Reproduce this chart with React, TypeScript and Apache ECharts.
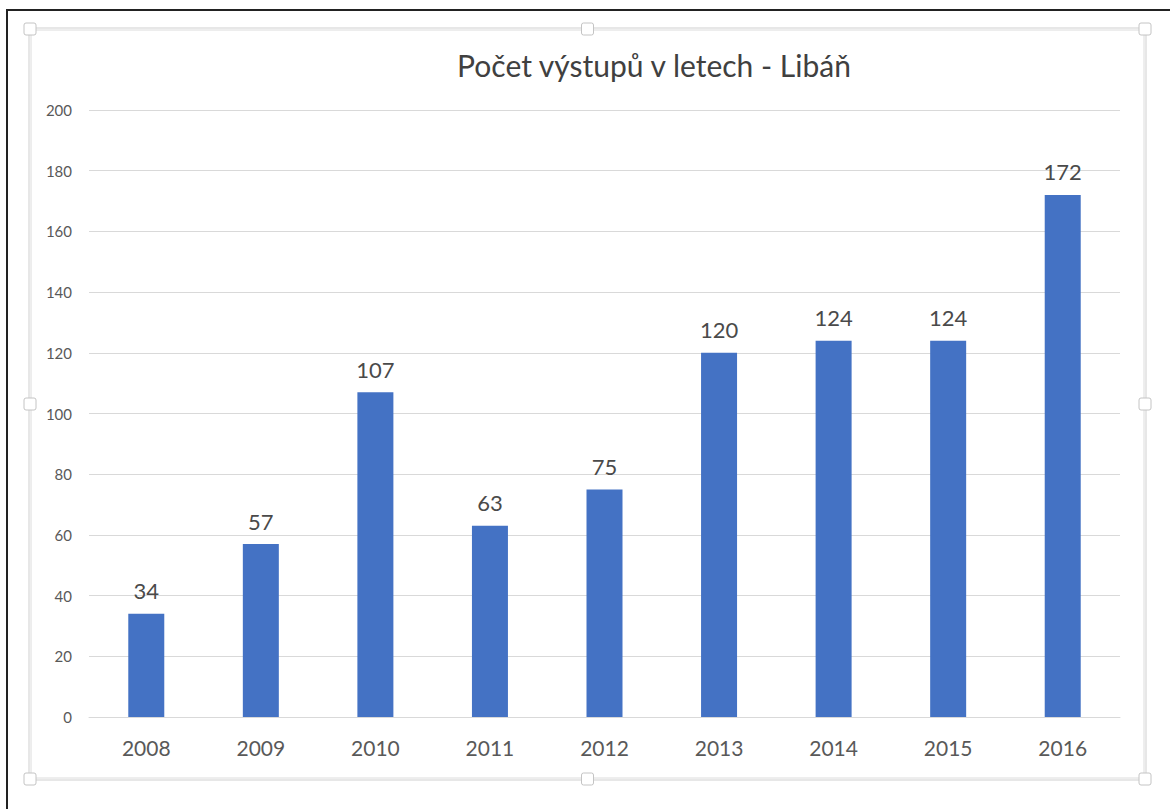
import React, { useEffect, useRef } from "react";
import * as echarts from "echarts";

const categories = ["2008", "2009", "2010", "2011", "2012", "2013", "2014", "2015", "2016"];
const values = [34, 57, 107, 63, 75, 120, 124, 124, 172];
const titleText = "Počet výstupů v letech - Libáň";

const FONT = "Lato, 'Open Sans', sans-serif";

function handle(cx: number, cy: number) {
  return {
    type: "rect",
    shape: { x: cx - 6, y: cy - 6, width: 12, height: 12, r: 2 },
    style: { fill: "#ffffff", stroke: "#c4c4c4", lineWidth: 1 },
    z: 10,
  };
}

export default function App() {
  const ref = useRef<HTMLDivElement>(null);
  useEffect(() => {
    const chart = echarts.init(ref.current!, undefined, { renderer: "svg" });
    const L = 30, T = 29, R = 1145, B = 779;
    const mx = (L + R) / 2, my = (T + B) / 2;
    chart.setOption({
      animation: false,
      backgroundColor: "#ffffff",
      title: {
        text: titleText,
        left: 649,
        top: 45,
        textAlign: "center",
        textStyle: { fontFamily: FONT, fontSize: 30, fontWeight: "normal", color: "#404040" },
      },
      grid: { left: 89, right: 50, top: 110, bottom: 92, containLabel: false },
      xAxis: {
        type: "category",
        data: categories,
        axisLine: { lineStyle: { color: "#d9d9d9", width: 1 } },
        axisTick: { show: false },
        axisLabel: { fontFamily: FONT, fontSize: 21, color: "#595959", margin: 20 },
      },
      yAxis: {
        type: "value",
        min: 0,
        max: 200,
        interval: 20,
        axisLine: { show: false },
        axisTick: { show: false },
        splitLine: { lineStyle: { color: "#d9d9d9", width: 1 } },
        axisLabel: { fontFamily: FONT, fontSize: 15, color: "#595959", margin: 17 },
      },
      series: [
        {
          type: "bar",
          data: values,
          barWidth: 36,
          itemStyle: { color: "#4472C4" },
          label: {
            show: true,
            position: "top",
            distance: 12,
            fontFamily: FONT,
            fontSize: 22,
            color: "#4a4a4a",
          },
        },
      ],
      graphic: [
        { type: "line", shape: { x1: 7, y1: 10, x2: 7, y2: 809 }, style: { stroke: "#222", lineWidth: 2 } },
        { type: "line", shape: { x1: 6, y1: 10, x2: 1170, y2: 10 }, style: { stroke: "#222", lineWidth: 2 } },
        { type: "rect", shape: { x: L - 1, y: T - 1, width: R - L + 2, height: B - T + 2 }, style: { fill: "none", stroke: "#cfcfcf", lineWidth: 1 } },
        { type: "rect", shape: { x: L + 1, y: T + 1, width: R - L - 2, height: B - T - 2 }, style: { fill: "none", stroke: "#dcdcdc", lineWidth: 1 } },
        handle(L, T), handle(mx, T), handle(R, T),
        handle(L, my), handle(R, my),
        handle(L, B), handle(mx, B), handle(R, B),
      ],
    });
    return () => chart.dispose();
  }, []);
  return (
    <div
      ref={ref}
      style={{ position: "fixed", left: 0, top: 0, width: 1170, height: 809 }}
    />
  );
}
